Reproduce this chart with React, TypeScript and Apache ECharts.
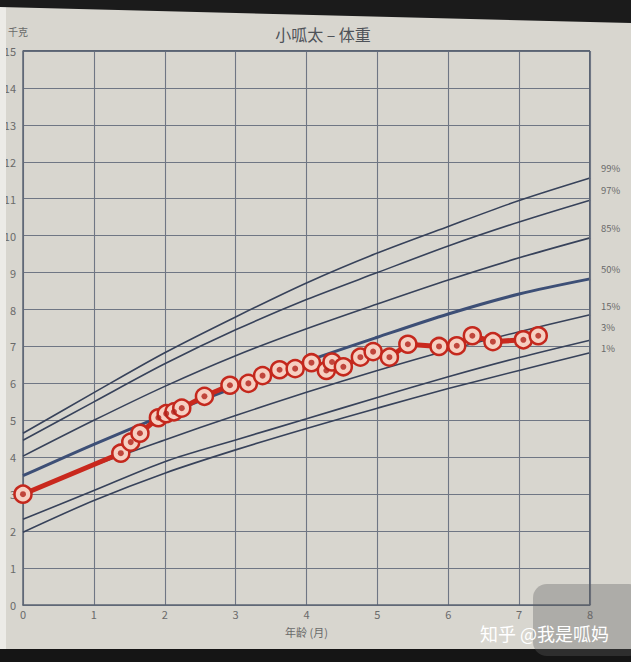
import React, { useEffect, useRef } from "react";
import * as echarts from "echarts";

// Percentile reference curves (kg) at each month 0..8
const months = [0, 1, 2, 3, 4, 5, 6, 7, 8];
const p99 = [4.65, 5.75, 6.83, 7.8, 8.72, 9.53, 10.25, 10.95, 11.56];
const p97 = [4.46, 5.5, 6.53, 7.45, 8.27, 9.0, 9.72, 10.37, 10.96];
const p85 = [4.03, 5.0, 5.92, 6.75, 7.48, 8.15, 8.8, 9.4, 9.94];
const p50 = [3.5, 4.35, 5.15, 5.9, 6.6, 7.25, 7.88, 8.42, 8.83];
const p15 = [3.0, 3.78, 4.47, 5.13, 5.76, 6.35, 6.9, 7.4, 7.86];
const p3 = [2.32, 3.1, 3.88, 4.47, 5.04, 5.62, 6.18, 6.7, 7.17];
const p1 = [1.97, 2.83, 3.57, 4.2, 4.78, 5.33, 5.86, 6.35, 6.83];
const percentileNames = ["99%", "97%", "85%", "50%", "15%", "3%", "1%"];

// Measured weights
const ageMonths = [0, 1.38, 1.52, 1.65, 1.91, 2.02, 2.13, 2.24, 2.56, 2.92, 3.18, 3.38, 3.62, 3.84, 4.07, 4.28, 4.36, 4.52, 4.76, 4.94, 5.17, 5.43, 5.87, 6.12, 6.34, 6.63, 7.06, 7.27];
const weightKg = [3.0, 4.11, 4.41, 4.65, 5.07, 5.18, 5.23, 5.33, 5.65, 5.95, 6.0, 6.21, 6.37, 6.4, 6.56, 6.35, 6.58, 6.45, 6.71, 6.86, 6.71, 7.06, 7.0, 7.02, 7.29, 7.13, 7.18, 7.29];

const xTickLabels = ["0", "1", "2", "3", "4", "5", "6", "7", "8"];

const FONT = '"Noto Sans CJK SC", "Noto Sans", sans-serif';

export default function App() {
  const ref = useRef<HTMLDivElement>(null);
  useEffect(() => {
    if (!ref.current) return;
    const chart = echarts.init(ref.current, undefined, { renderer: "svg" });
    const curves = [p99, p97, p85, p50, p15, p3, p1];
    const labelOffsets = [-10, -10, -10, -10, -9, -13, -5];
    const curveSeries = curves.map((c, k) => ({
      type: "line",
      name: percentileNames[k],
      data: months.map((m, i) => [m, c[i]]),
      smooth: 0.3,
      symbol: "none",
      silent: true,
      z: 2,
      lineStyle: {
        color: k === 3 ? "#3d4f76" : "#37425a",
        width: k === 3 ? 3 : 1.6,
      },
      endLabel: {
        show: true,
        formatter: percentileNames[k],
        color: "#6a6a6a",
        fontSize: 9.5,
        lineHeight: 10,
        fontFamily: FONT,
        offset: [3, labelOffsets[k]],
      },
    }));
    const weightData = ageMonths.map((a, i) => [a, weightKg[i]]);
    chart.setOption({
      animation: false,
      backgroundColor: "#d8d6cf",
      title: {
        text: "小呱太 – 体重",
        left: 318,
        top: 21,
        textAlign: "center",
        textStyle: { color: "#4e5258", fontSize: 16, fontWeight: "normal", fontFamily: FONT },
      },
      grid: { left: 23, right: 41, top: 51, bottom: 57 },
      xAxis: {
        type: "value",
        min: 0,
        max: 8,
        interval: 1,
        name: "年龄 (月)",
        nameLocation: "middle",
        nameGap: 21,
        nameTextStyle: { color: "#6a6a6a", fontSize: 11, fontFamily: FONT },
        axisLine: { show: true, lineStyle: { color: "#5b6473", width: 1.5 } },
        axisTick: { show: false },
        axisLabel: {
          color: "#6a6a6a",
          fontSize: 11,
          lineHeight: 11,
          margin: 3,
          fontFamily: FONT,
          formatter: (v: number) => xTickLabels[Math.round(v)] ?? "",
        },
        splitLine: { show: true, lineStyle: { color: "#6f7684", width: 1.1 } },
      },
      yAxis: {
        type: "value",
        min: 0,
        max: 15,
        interval: 1,
        axisLine: { show: true, lineStyle: { color: "#5b6473", width: 1.5 } },
        axisTick: { show: false },
        axisLabel: { color: "#6a6a6a", fontSize: 11, margin: 7, fontFamily: FONT },
        splitLine: { show: true, lineStyle: { color: "#6f7684", width: 1.1 } },
      },
      graphic: [
        {
          type: "text",
          x: 8,
          y: 26,
          style: { text: "千克", fill: "#6a6a6a", fontSize: 10, fontFamily: FONT },
          z: 6,
        },
        {
          type: "rect",
          right: 41,
          top: 51,
          shape: { x: 0, y: 0, width: 1, height: 554 },
          style: { fill: "#5b6473" },
          z: 5,
        },
        {
          type: "rect",
          left: 23,
          top: 50,
          shape: { x: 0, y: 0, width: 567, height: 1.5 },
          style: { fill: "#5b6473" },
          z: 5,
        },
        {
          type: "polygon",
          shape: { points: [[0, 0], [631, 0], [631, 23], [0, 7]] },
          style: { fill: "#1b1b1b" },
          z: 10,
        },
        {
          type: "rect",
          shape: { x: 0, y: 649, width: 631, height: 13 },
          style: { fill: "#151515" },
          z: 10,
        },
        {
          type: "rect",
          shape: { x: 0, y: 0, width: 6, height: 662 },
          style: { fill: "#ecebe7" },
          z: 9,
        },
        {
          type: "rect",
          shape: { x: 533, y: 584, width: 110, height: 72, r: 14 },
          style: { fill: "rgba(95,95,95,0.35)" },
          z: 11,
        },
        {
          type: "text",
          x: 480,
          y: 623,
          style: { text: "知乎 @我是呱妈", fill: "#ffffff", fontSize: 18, lineHeight: 20, fontFamily: FONT },
          z: 12,
        },
      ],
      series: [
        ...curveSeries,
        {
          type: "line",
          name: "体重",
          data: weightData,
          symbol: "circle",
          symbolSize: 17,
          z: 4,
          lineStyle: { color: "#c9281d", width: 5 },
          itemStyle: { color: "#f6d0c2", borderColor: "#c4281d", borderWidth: 2.5 },
        },
        {
          type: "scatter",
          data: weightData,
          symbol: "circle",
          symbolSize: 6,
          z: 5,
          itemStyle: { color: "#b3231a" },
        },
      ],
    });
    return () => chart.dispose();
  }, []);
  return (
    <div
      ref={ref}
      style={{ position: "fixed", left: 0, top: 0, width: 631, height: 662 }}
    />
  );
}
